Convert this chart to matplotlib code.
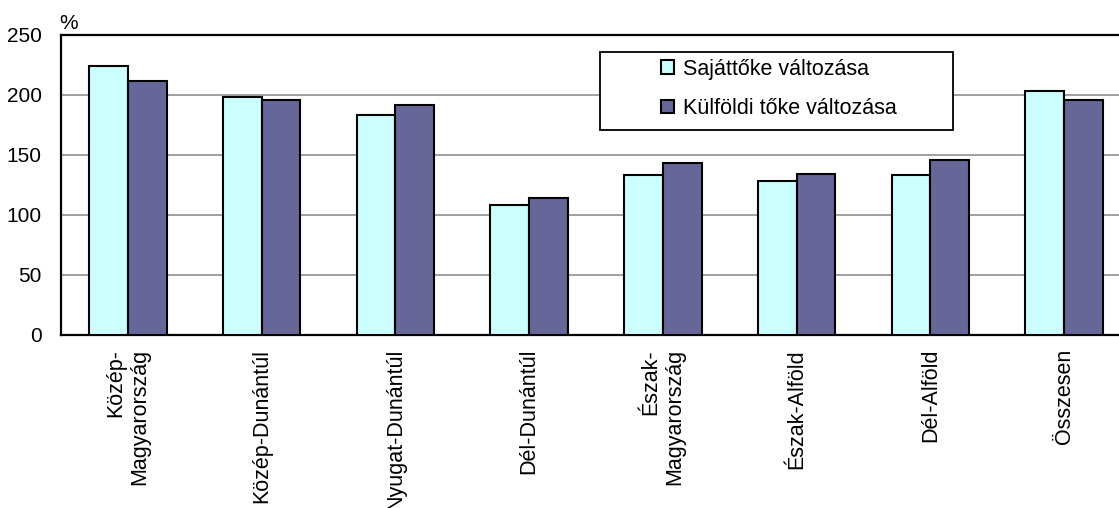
import matplotlib
matplotlib.use("Agg")
import matplotlib.pyplot as plt
from matplotlib.patches import Rectangle
import numpy as np

plt.rcParams['font.family'] = ['Liberation Sans', 'DejaVu Sans']

# adatok
regiok = ["Közép-\nMagyarország", "Közép-Dunántúl", "Nyugat-Dunántúl", "Dél-Dunántúl",
          "Észak-\nMagyarország", "Észak-Alföld", "Dél-Alföld", "Összesen"]
sajat = [224, 198, 183, 108, 133, 128, 133, 203]
kulfoldi = [212, 196, 192, 114, 143, 134, 146, 196]
yticks = [0, 50, 100, 150, 200, 250]
nevek = ["Sajáttőke változása", "Külföldi tőke változása"]

fig = plt.figure(figsize=(11.19, 5.08), dpi=100)
W, H = 1119, 508
# a jobb szél kilóg a képből, mint az eredetin
ax = fig.add_axes([61 / W, 1 - 335 / H, (1131 - 61) / W, 300 / H])

x = np.arange(len(regiok))
w = 0.29
ax.bar(x - w / 2, sajat, w, color="#CCFFFF", edgecolor="black", linewidth=1.5, label=nevek[0], zorder=3)
ax.bar(x + w / 2, kulfoldi, w, color="#666699", edgecolor="black", linewidth=1.5, label=nevek[1], zorder=3)

ax.set_xlim(-0.5, len(regiok) - 0.5)
ax.set_ylim(0, 250)
ax.set_yticks(yticks)
ax.yaxis.grid(True, color="#999999", linewidth=1.3, zorder=0)
ax.set_axisbelow(True)
for s in ax.spines.values():
    s.set_linewidth(1.6)
    s.set_color("black")

ax.set_xticks(x)
ax.set_xticklabels(regiok, rotation=90, ha="center", va="top", multialignment="right")
ax.tick_params(axis="y", length=0, pad=14, labelsize=15)
ax.tick_params(axis="x", length=0, pad=10, labelsize=15.5)

fig.text(59 / W, 1 - 33 / H, "%", fontsize=15, ha="left", va="bottom")

# jelmagyarázat doboz kézzel
box = Rectangle((600 / W, 1 - 130 / H), 353 / W, 78 / H, transform=fig.transFigure,
                facecolor="white", edgecolor="black", linewidth=1.3, zorder=5)
fig.patches.append(box)
leg = fig.legend(loc="center", bbox_to_anchor=(779 / W, 1 - 89 / H), frameon=False,
                 fontsize=15.5, handlelength=0.6, handleheight=0.6, handletextpad=0.4,
                 labelspacing=0.85)
leg.set_zorder(6)

fig.savefig("out.png", dpi=100)
